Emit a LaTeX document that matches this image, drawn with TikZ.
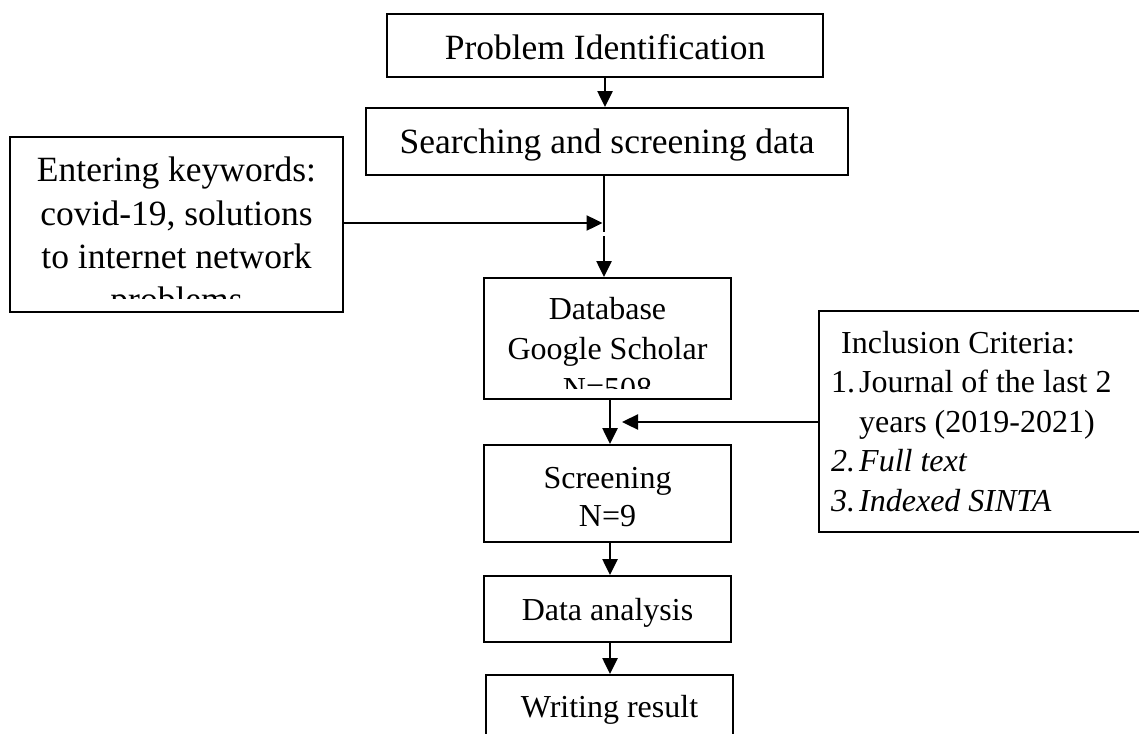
\documentclass[tikz,border=0pt]{standalone}
\usepackage{fontspec}
\setmainfont{Liberation Serif}
\usetikzlibrary{arrows.meta}
\begin{document}
\begin{tikzpicture}[x=1pt,y=-1pt,
  box/.style={draw=black, line width=1.9pt, rectangle, inner sep=0pt, fill=white},
  big/.style={inner sep=0pt, anchor=base, font=\fontsize{35.5}{40}\selectfont},
  mid/.style={inner sep=0pt, anchor=base, font=\fontsize{32}{38}\selectfont},
  midl/.style={mid, anchor=base west},
  arr/.style={line width=2.4pt, -{Triangle[width=15pt,length=16pt]}},
  seg/.style={line width=2.4pt}]
\useasboundingbox (0,0) rectangle (1139,733);
\fill[white] (0,0) rectangle (1139,733);
\clip (0,0) rectangle (1139,733);

% boxes
\node[box, minimum width=436pt, minimum height=63pt] (pi) at (605,45.5) {};
\node[box, minimum width=482pt, minimum height=67pt] (sd) at (607,141.5) {};
\node[box, minimum width=333pt, minimum height=175pt] (kw) at (176.5,224.5) {};
\node[box, minimum width=247pt, minimum height=121pt] (db) at (607.5,338.5) {};
\node[box, minimum width=247pt, minimum height=97pt] (sc) at (607.5,493.5) {};
\node[box, minimum width=247pt, minimum height=66pt] (da) at (607.5,609) {};
\node[box, minimum width=247pt, minimum height=90pt] (wr) at (609.5,720) {};
\node[box, minimum width=341pt, minimum height=221pt] (inc) at (989.5,421.5) {};

% texts
\node[big] (pit) at (605,60) {Problem Identification};
\node[big] (sdt) at (607,153) {Searching and screening data};
\begin{scope}
  \clip (12,139) rectangle (341,298);
  \node[big] (kw1) at (176.5,181.5) {Entering keywords:};
  \node[big] (kw2) at (176.5,225) {covid-19, solutions};
  \node[big] (kw3) at (176.5,268) {to internet network};
  \node[big] (kw4) at (176.5,311.5) {problems};
\end{scope}
\begin{scope}
  \clip (486,280) rectangle (729,388);
  \node[mid] (db1) at (607.5,319.3) {Database};
  \node[mid] (db2) at (607.5,359.3) {Google Scholar};
  \node[mid] (db3) at (607.5,399.3) {N=508};
\end{scope}
\node[mid] (sc1) at (607.5,488.3) {Screening};
\node[mid] (sc2) at (607.5,526.7) {N=9};
\node[mid] (dat) at (607.5,620.7) {Data analysis};
\node[mid] (wrt) at (609.5,717) {Writing result};
\node[midl] (inc0) at (841,353) {Inclusion Criteria:};
\node[midl] (n1) at (831,392.5) {1.};
\node[midl] (inc1) at (859,392.5) {Journal of the last 2};
\node[midl] (inc2) at (859,432) {years (2019-2021)};
\node[midl] (n2) at (831,471.5) {\itshape 2.};
\node[midl] (inc3) at (859,471.5) {\itshape Full text};
\node[midl] (n3) at (831,511) {\itshape 3.};
\node[midl] (inc4) at (859,511) {\itshape Indexed SINTA};

% connectors
\coordinate (j1) at (604,223);
\coordinate (g1) at (604,231.5);
\coordinate (g2) at (604,236);
\coordinate (j2) at (610,422);
\draw[arr] (pi.south) -- (pi.south |- sd.north);
\draw[seg] (sd.south -| j1) -- (g1);
\draw[arr] (g2) -- (db.north -| j1);
\draw[arr] (kw.east |- j1) -- ([xshift=-1.5pt]j1);
\draw[arr] (db.south -| j2) -- (sc.north -| j2);
\draw[arr] (inc.west |- j2) -- ([xshift=12pt]j2);
\draw[arr] (sc.south -| j2) -- (da.north -| j2);
\draw[arr] (da.south -| j2) -- (wr.north -| j2);
\end{tikzpicture}
\end{document}
